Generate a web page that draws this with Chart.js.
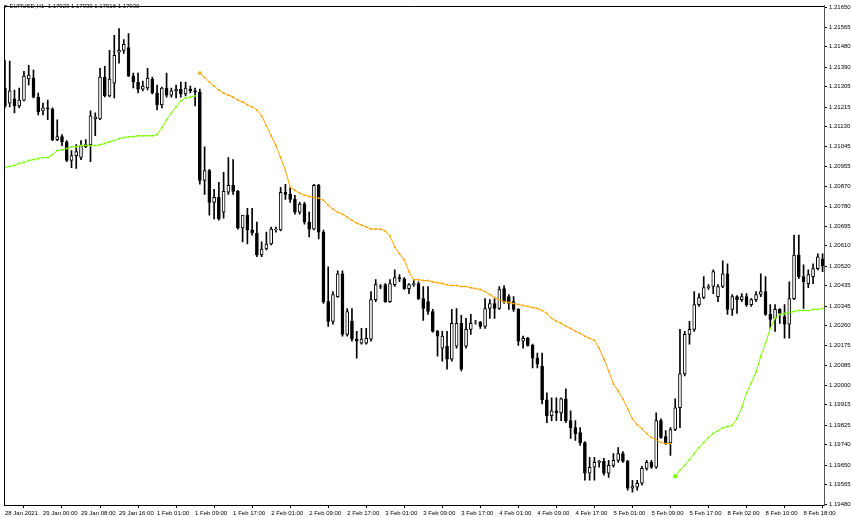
<!DOCTYPE html>
<html>
<head>
<meta charset="utf-8">
<script src="https://cdn.jsdelivr.net/npm/chart.js@4.4.1/dist/chart.umd.min.js"></script>
<style>
html,body{margin:0;padding:0;background:#fff;}
#wrap{position:relative;width:852px;height:517px;}
#hdr{position:absolute;left:3px;top:2px;font-size:6px;line-height:8px;font-family:'Liberation Sans',Arial,sans-serif;color:#000;white-space:pre;}
#hdr span{font-size:5px;vertical-align:top;}
</style>
</head>
<body>
<div id="wrap">
<canvas id="c" width="852" height="517"></canvas>
<div id="hdr"><span>&#9660;</span> EURUSD,H1  1.17923 1.17930 1.17916 1.17930</div>
</div>
<script>
// ---- data (EURUSD H1, one entry per bar, bar 0 = 28 Jan 2021 16:00) ----
const opens = [
1.21299,1.21233,1.21251,1.21220,1.21246,1.21338,1.21342,1.21259,1.21199,1.21212,
1.21207,1.21073,1.21086,1.21064,1.20982,1.21003,1.20995,1.21042,1.21051,1.21164,
1.21164,1.21346,1.21264,1.21320,1.21455,1.21463,1.21476,1.21351,1.21325,1.21294,
1.21299,1.21338,1.21277,1.21225,1.21299,1.21268,1.21286,1.21294,1.21273,1.21294,
1.21286,1.21281,1.20895,1.20938,1.20799,1.20821,1.20756,1.20843,1.20873,1.20847,
1.20687,1.20743,1.20678,1.20665,1.20569,1.20595,1.20617,1.20678,1.20678,1.20843,
1.20834,1.20812,1.20756,1.20791,1.20713,1.20682,1.20873,1.20669,1.20365,1.20279,
1.20387,1.20487,1.20222,1.20279,1.20201,1.20183,1.20183,1.20201,1.20374,1.20431,
1.20439,1.20365,1.20439,1.20470,1.20465,1.20422,1.20439,1.20444,1.20378,1.20365,
1.20322,1.20235,1.20161,1.20170,1.20114,1.20170,1.20270,1.20170,1.20244,1.20274,
1.20274,1.20257,1.20335,1.20357,1.20335,1.20422,1.20387,1.20365,1.20331,1.20192,
1.20205,1.20174,1.20118,1.20083,1.19936,1.19866,1.19888,1.19879,1.19940,1.19845,
1.19814,1.19793,1.19749,1.19615,1.19641,1.19662,1.19667,1.19615,1.19649,1.19671,
1.19701,1.19667,1.19550,1.19554,1.19571,1.19636,1.19662,1.19641,1.19845,1.19775,
1.19749,1.19806,1.19901,1.20049,1.20222,1.20244,1.20352,1.20383,1.20426,1.20431,
1.20387,1.20431,1.20487,1.20331,1.20387,1.20374,1.20387,1.20352,1.20374,1.20396,
1.20409,1.20309,1.20292,1.20331,1.20300,1.20266,1.20378,1.20569,1.20474,1.20444,
1.20474,1.20509,1.20552];
const highs = [
1.21420,1.21416,1.21290,1.21299,1.21372,1.21398,1.21377,1.21277,1.21233,1.21246,
1.21212,1.21160,1.21095,1.21069,1.21025,1.21051,1.21069,1.21073,1.21199,1.21190,
1.21385,1.21394,1.21463,1.21529,1.21559,1.21511,1.21537,1.21364,1.21364,1.21329,
1.21385,1.21346,1.21312,1.21303,1.21364,1.21299,1.21312,1.21325,1.21325,1.21307,
1.21299,1.21294,1.21042,1.20943,1.20856,1.20886,1.20930,1.20995,1.20986,1.20852,
1.20726,1.20773,1.20773,1.20713,1.20626,1.20669,1.20691,1.20691,1.20865,1.20878,
1.20865,1.20830,1.20799,1.20799,1.20756,1.20878,1.20878,1.20678,1.20517,1.20409,
1.20500,1.20500,1.20335,1.20335,1.20235,1.20248,1.20248,1.20409,1.20461,1.20439,
1.20444,1.20461,1.20504,1.20483,1.20470,1.20444,1.20461,1.20452,1.20431,1.20431,
1.20331,1.20240,1.20235,1.20235,1.20331,1.20335,1.20305,1.20292,1.20309,1.20283,
1.20279,1.20378,1.20374,1.20378,1.20431,1.20435,1.20396,1.20387,1.20335,1.20214,
1.20209,1.20179,1.20140,1.20140,1.19966,1.19944,1.19944,1.19944,1.19984,1.19888,
1.19845,1.19814,1.19753,1.19684,1.19684,1.19671,1.19680,1.19671,1.19701,1.19727,
1.19710,1.19671,1.19584,1.19584,1.19645,1.19671,1.19671,1.19879,1.19853,1.19801,
1.19814,1.19940,1.20244,1.20235,1.20279,1.20409,1.20400,1.20474,1.20439,1.20504,
1.20439,1.20543,1.20530,1.20396,1.20391,1.20400,1.20400,1.20378,1.20409,1.20487,
1.20474,1.20352,1.20352,1.20335,1.20352,1.20452,1.20656,1.20656,1.20526,1.20504,
1.20530,1.20574,1.20574];
const lows = [
1.21212,1.21216,1.21190,1.21212,1.21242,1.21312,1.21255,1.21181,1.21181,1.21160,
1.21069,1.21069,1.21047,1.20977,1.20951,1.20947,1.20986,1.21038,1.20977,1.21090,
1.21160,1.21260,1.21260,1.21255,1.21407,1.21450,1.21349,1.21299,1.21277,1.21286,
1.21290,1.21273,1.21203,1.21212,1.21259,1.21259,1.21255,1.21259,1.21264,1.21277,
1.21220,1.20878,1.20834,1.20743,1.20726,1.20721,1.20730,1.20834,1.20834,1.20682,
1.20626,1.20617,1.20656,1.20561,1.20561,1.20591,1.20613,1.20669,1.20674,1.20812,
1.20799,1.20747,1.20747,1.20704,1.20648,1.20678,1.20639,1.20357,1.20257,1.20266,
1.20383,1.20214,1.20214,1.20192,1.20118,1.20179,1.20179,1.20192,1.20365,1.20422,
1.20361,1.20361,1.20431,1.20452,1.20418,1.20400,1.20431,1.20374,1.20283,1.20309,
1.20231,1.20127,1.20105,1.20070,1.20105,1.20161,1.20062,1.20161,1.20222,1.20266,
1.20248,1.20248,1.20292,1.20292,1.20331,1.20357,1.20331,1.20322,1.20174,1.20161,
1.20170,1.20075,1.20075,1.19918,1.19836,1.19845,1.19845,1.19845,1.19836,1.19767,
1.19758,1.19736,1.19584,1.19584,1.19584,1.19641,1.19606,1.19597,1.19641,1.19662,
1.19662,1.19541,1.19532,1.19541,1.19563,1.19628,1.19636,1.19636,1.19767,1.19740,
1.19693,1.19801,1.19814,1.20040,1.20179,1.20235,1.20344,1.20378,1.20418,1.20400,
1.20365,1.20426,1.20309,1.20305,1.20313,1.20365,1.20344,1.20344,1.20365,1.20387,
1.20305,1.20248,1.20235,1.20270,1.20205,1.20205,1.20374,1.20465,1.20335,1.20426,
1.20444,1.20504,1.20496];
const closes = [
1.21220,1.21286,1.21220,1.21246,1.21351,1.21355,1.21259,1.21194,1.21212,1.21207,
1.21073,1.21086,1.21064,1.20982,1.21003,1.21021,1.21047,1.21051,1.21177,1.21173,
1.21346,1.21264,1.21338,1.21442,1.21463,1.21490,1.21351,1.21325,1.21294,1.21307,
1.21342,1.21277,1.21225,1.21299,1.21268,1.21286,1.21294,1.21273,1.21299,1.21286,
1.21281,1.20895,1.20938,1.20799,1.20821,1.20726,1.20847,1.20873,1.20847,1.20687,
1.20743,1.20678,1.20665,1.20569,1.20595,1.20617,1.20682,1.20682,1.20843,1.20834,
1.20812,1.20756,1.20791,1.20713,1.20682,1.20873,1.20669,1.20365,1.20279,1.20396,
1.20487,1.20222,1.20322,1.20201,1.20192,1.20201,1.20205,1.20374,1.20439,1.20429,
1.20365,1.20444,1.20470,1.20465,1.20422,1.20439,1.20444,1.20378,1.20335,1.20322,
1.20235,1.20214,1.20214,1.20114,1.20270,1.20270,1.20070,1.20244,1.20270,1.20275,
1.20257,1.20335,1.20357,1.20335,1.20418,1.20365,1.20357,1.20331,1.20192,1.20205,
1.20174,1.20118,1.20092,1.19936,1.19866,1.19888,1.19879,1.19940,1.19845,1.19814,
1.19788,1.19749,1.19615,1.19641,1.19662,1.19667,1.19615,1.19649,1.19671,1.19701,
1.19667,1.19550,1.19558,1.19571,1.19636,1.19662,1.19641,1.19845,1.19771,1.19745,
1.19806,1.19901,1.20049,1.20222,1.20244,1.20352,1.20383,1.20426,1.20431,1.20496,
1.20431,1.20487,1.20331,1.20387,1.20374,1.20387,1.20352,1.20374,1.20396,1.20409,
1.20309,1.20287,1.20331,1.20313,1.20266,1.20378,1.20569,1.20474,1.20452,1.20483,
1.20509,1.20561,1.20522];

// trend line, rising segment (green) starting at bar 0
const trendUpAStart = 0;
const trendUpA = [
1.20951,1.20956,1.20960,1.20969,1.20973,1.20982,1.20986,1.20990,1.20995,1.20995,
1.21008,1.21025,1.21029,1.21034,1.21042,1.21042,1.21047,1.21047,1.21047,1.21047,
1.21051,1.21056,1.21064,1.21069,1.21077,1.21082,1.21086,1.21086,1.21090,1.21090,
1.21090,1.21090,1.21095,1.21125,1.21160,1.21190,1.21216,1.21242,1.21255,1.21259,
1.21264];
// trend line, falling segment (orange) starting at bar 41
const trendDownStart = 41;
const trendDown = [
1.21364,1.21346,1.21325,1.21307,1.21290,1.21277,1.21268,1.21259,1.21246,1.21238,
1.21225,1.21216,1.21203,1.21177,1.21134,1.21090,1.21047,1.20995,1.20938,1.20865,
1.20852,1.20839,1.20830,1.20825,1.20821,1.20817,1.20808,1.20786,1.20769,1.20756,
1.20747,1.20734,1.20721,1.20708,1.20700,1.20691,1.20682,1.20682,1.20682,1.20674,
1.20652,1.20604,1.20574,1.20548,1.20496,1.20461,1.20461,1.20457,1.20457,1.20452,
1.20448,1.20444,1.20439,1.20435,1.20435,1.20431,1.20431,1.20426,1.20422,1.20418,
1.20409,1.20396,1.20383,1.20374,1.20365,1.20361,1.20357,1.20352,1.20348,1.20344,
1.20339,1.20335,1.20326,1.20313,1.20292,1.20279,1.20270,1.20257,1.20248,1.20235,
1.20227,1.20214,1.20205,1.20196,1.20161,1.20114,1.20062,1.20005,1.19975,1.19940,
1.19897,1.19853,1.19827,1.19810,1.19788,1.19771,1.19762,1.19749,1.19745,1.19745];
// trend line, rising segment (green) starting at bar 141
const trendUpBStart = 141;
const trendUpB = [
1.19602,1.19628,1.19649,1.19675,1.19701,1.19727,1.19749,1.19771,1.19788,
1.19801,1.19814,1.19819,1.19823,1.19853,1.19901,1.19966,1.20010,1.20057,1.20127,
1.20183,1.20248,1.20292,1.20309,1.20313,1.20318,1.20322,1.20326,1.20326,1.20326,
1.20331,1.20331,1.20335];

// tick labels
const xTickEvery = 8;
const xTickLabels = ["28 Jan 2021","29 Jan 00:00","29 Jan 08:00","29 Jan 16:00","1 Feb 01:00","1 Feb 09:00",
"1 Feb 17:00","2 Feb 01:00","2 Feb 09:00","2 Feb 17:00","3 Feb 01:00","3 Feb 09:00","3 Feb 17:00",
"4 Feb 01:00","4 Feb 09:00","4 Feb 17:00","5 Feb 01:00","5 Feb 09:00","5 Feb 17:00","8 Feb 02:00",
"8 Feb 10:00","8 Feb 18:00"];
const yTickLabels = ["1.21650","1.21565","1.21480","1.21390","1.21305","1.21215","1.21130","1.21045",
"1.20955","1.20870","1.20780","1.20695","1.20610","1.20520","1.20435","1.20345","1.20260","1.20175",
"1.20085","1.20000","1.19915","1.19825","1.19740","1.19650","1.19565","1.19480"];

// ---- build chart ----
const GREEN = '#7CFC00';
const ORANGE = '#FFA500';
const FONT = "'Liberation Sans',Arial,sans-serif";

const wickData = opens.map((_, i) => ({x: i, y: [lows[i], highs[i]]}));
const bodyData = opens.map((o, i) => ({x: i, y: [o, closes[i]]}));
const bodyFill = opens.map((o, i) => closes[i] >= o ? '#ffffff' : '#000000');
const seg = (arr, start) => arr.map((v, i) => ({x: start + i, y: v}));

const frame = {
  id: 'frame',
  beforeDraw(chart) {
    const c = chart.ctx;
    c.save(); c.fillStyle = '#fff'; c.fillRect(0, 0, chart.width, chart.height); c.restore();
  },
  afterDraw(chart) {
    const a = chart.chartArea, c = chart.ctx;
    c.save();
    c.strokeStyle = '#000'; c.lineWidth = 1;
    c.beginPath();
    c.moveTo(Math.round(a.left) + 0.5, Math.round(a.bottom));
    c.lineTo(Math.round(a.left) + 0.5, Math.round(a.top) + 0.5);
    c.lineTo(Math.round(a.right), Math.round(a.top) + 0.5);
    c.stroke();
    c.restore();
  }
};

new Chart(document.getElementById('c'), {
  type: 'bar',
  data: {
    datasets: [
      { type: 'line', label: 'trend up', data: seg(trendUpA, trendUpAStart), borderColor: GREEN, borderWidth: 1,
        pointRadius: 1, pointBackgroundColor: GREEN, pointBorderWidth: 0, tension: 0, order: 0 },
      { type: 'line', label: 'trend down', data: seg(trendDown, trendDownStart), borderColor: ORANGE, borderWidth: 1,
        pointRadius: ctx => ctx.dataIndex === 0 ? 2.2 : 1, pointStyle: ctx => ctx.dataIndex === 0 ? 'rect' : 'circle',
        pointBackgroundColor: ORANGE, pointBorderWidth: 0, tension: 0, order: 0 },
      { type: 'line', label: 'trend up 2', data: seg(trendUpB, trendUpBStart), borderColor: GREEN, borderWidth: 1,
        pointRadius: ctx => ctx.dataIndex === 0 ? 2.2 : 1,
        pointBackgroundColor: GREEN, pointBorderWidth: 0, tension: 0, order: 0 },
      { type: 'bar', label: 'body', data: bodyData, backgroundColor: bodyFill, borderColor: '#000', borderWidth: 1,
        borderSkipped: false, barThickness: 3, grouped: false, order: 1 },
      { type: 'bar', label: 'wick', data: wickData, backgroundColor: '#000', borderWidth: 0,
        barThickness: 1, grouped: false, order: 2 }
    ]
  },
  options: {
    responsive: false,
    animation: false,
    devicePixelRatio: 1,
    layout: { padding: { left: 1, top: 2, right: 0, bottom: 0 } },
    plugins: { legend: { display: false }, tooltip: { enabled: false }, title: { display: false } },
    scales: {
      x: {
        type: 'linear', min: -0.2, max: 172.3, offset: false, bounds: 'data',
        grid: { drawOnChartArea: false, drawTicks: true, tickLength: 3, color: '#000' },
        border: { display: true, color: '#000' },
        ticks: { autoSkip: false, maxRotation: 0, minRotation: 0, align: 'start', padding: 2,
          color: '#000', font: { family: FONT, size: 6 },
          callback: (v, i) => xTickLabels[i] },
        afterBuildTicks: s => { s.ticks = xTickLabels.map((_, k) => ({ value: k * xTickEvery })); },
        afterFit: s => { s.height = 12; }
      },
      y: {
        type: 'linear', position: 'right', min: 1.19476, max: 1.21659, bounds: 'data',
        grid: { drawOnChartArea: false, drawTicks: true, tickLength: 3, color: '#000' },
        border: { display: true, color: '#555' },
        ticks: { autoSkip: false, padding: 2, color: '#000', font: { family: FONT, size: 6 },
          callback: (v, i) => yTickLabels[i] },
        afterBuildTicks: s => { s.ticks = yTickLabels.map(l => ({ value: parseFloat(l) })); },
        afterFit: s => { s.width = 28; }
      }
    }
  },
  plugins: [frame]
});
</script>
</body>
</html>
